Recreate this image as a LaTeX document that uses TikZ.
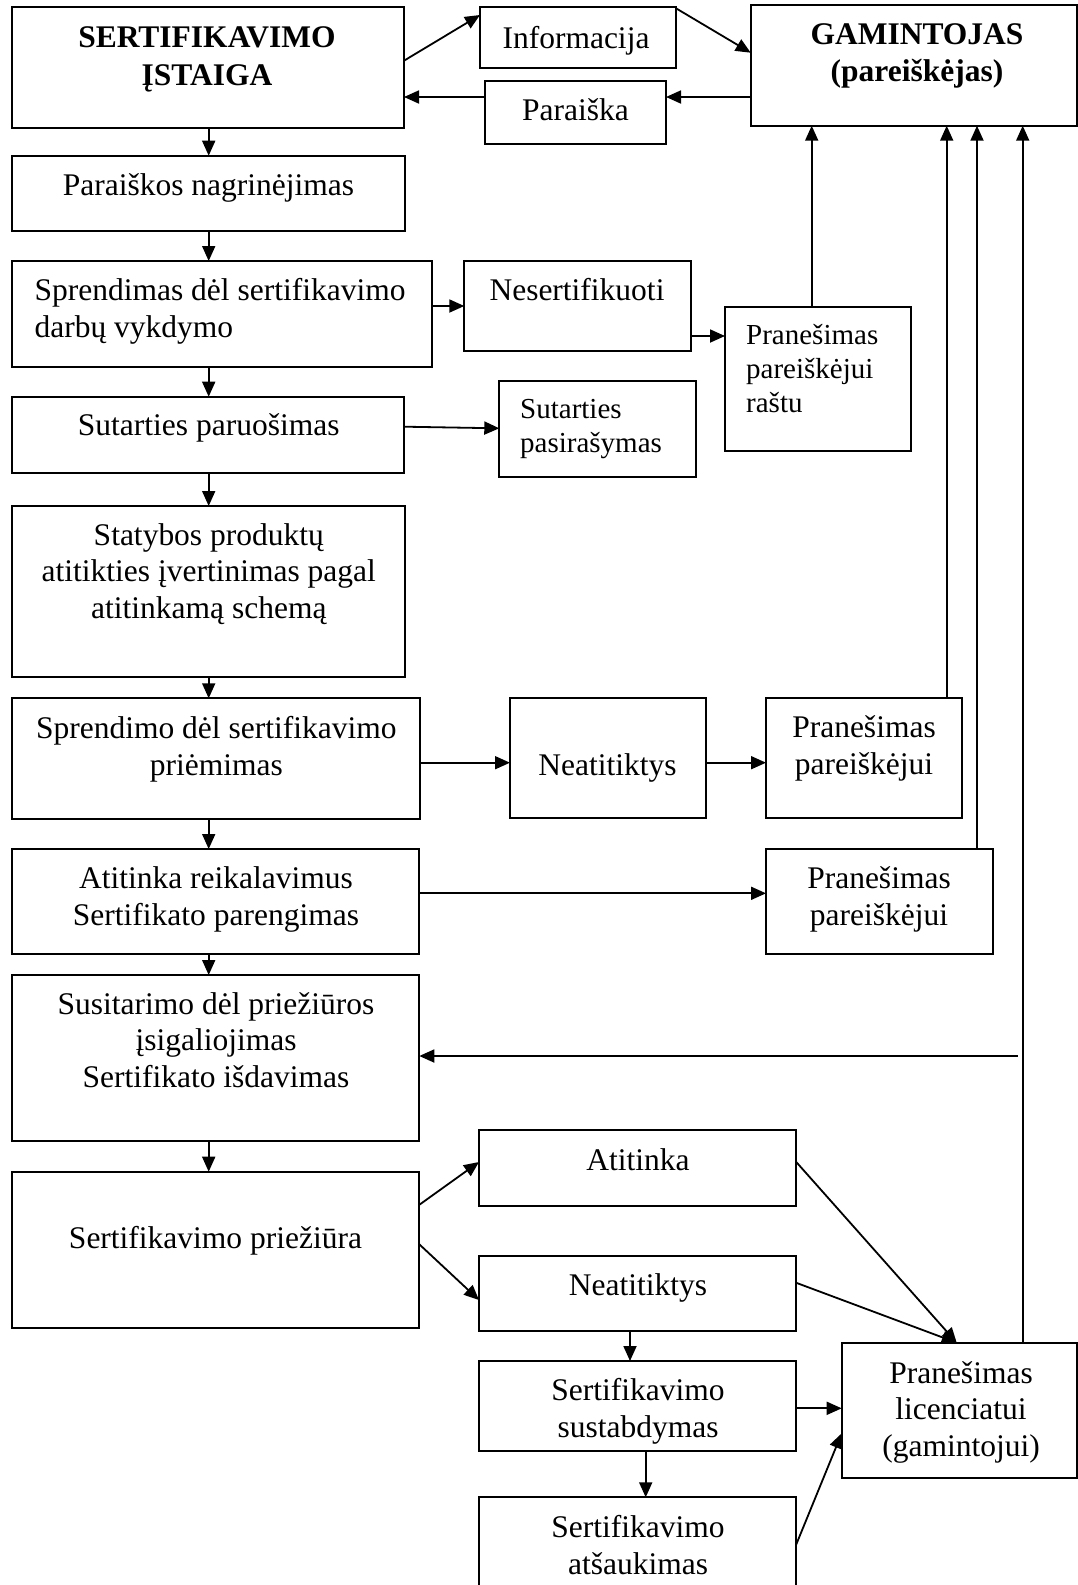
\documentclass[tikz,border=0pt]{standalone}
\usepackage{fontspec}
\setmainfont{Liberation Serif}
\usetikzlibrary{arrows.meta,calc}
\tikzset{
  box/.style={draw, line width=2pt, rectangle, inner sep=0pt, outer sep=0pt},
  txt/.style={inner sep=0pt, anchor=base, align=center, font=\fontsize{31.5}{36.5}\selectfont},
  txtl/.style={inner sep=0pt, anchor=base west, align=left, font=\fontsize{31.5}{36.5}\selectfont},
  small/.style={inner sep=0pt, anchor=base west, align=left, font=\fontsize{29}{34}\selectfont},
  head/.style={inner sep=0pt, anchor=base, align=center, font=\fontsize{31.5}{37.3}\selectfont\bfseries},
  conn/.style={line width=1.8pt, -{Triangle[length=15pt,width=13pt]}},
}
\newcommand\bx[5]{\node[box, minimum width={(#4)-(#2)}, minimum height={(#5)-(#3)}] (#1) at ({((#2)+(#4))/2},{((#3)+(#5))/2}) {};}
\begin{document}
\begin{tikzpicture}[x=1pt,y=-1pt]
\useasboundingbox (0,0) rectangle (1078,1585);
% boxes
\bx{sert}{12.4}{7.3}{404}{127.7}
\bx{info}{480}{7}{676}{68}
\bx{parai}{485}{81}{666}{144}
\bx{gam}{750.7}{5}{1077}{125.7}
\bx{pnag}{12.4}{155.7}{405}{230.7}
\bx{spr}{12.4}{261}{431.7}{366.7}
\bx{nes}{464.3}{261}{690.7}{351}
\bx{rastu}{725}{307}{910.7}{451}
\bx{sutp}{12.4}{396.7}{404.3}{472.7}
\bx{pas}{499.3}{380.7}{696}{476.7}
\bx{stat}{12.3}{506}{405}{677.3}
\bx{prie}{12.3}{698.3}{420}{818.7}
\bx{neatA}{510}{698.3}{706}{818.3}
\bx{ppA}{766}{698.3}{962.3}{818.3}
\bx{atr}{12.3}{849}{419}{954.3}
\bx{ppB}{766}{849}{992.7}{954.3}
\bx{sus}{12.3}{975}{419.3}{1140.7}
\bx{prz}{12.3}{1171.7}{419}{1328.3}
\bx{atit}{479}{1130}{796}{1205.7}
\bx{neatB}{479}{1255.7}{796}{1330.7}
\bx{sust}{479}{1361}{796}{1450.7}
\bx{ats}{479}{1497.3}{796}{1600}
\bx{lic}{841.7}{1342.7}{1077}{1477.7}
% texts (anchor base = baseline of the last line)
\node[head] (tsert) at (207,85) {SERTIFIKAVIMO\\ĮSTAIGA};
\node[txt] (tinfo) at (576,48.3) {Informacija};
\node[txt] (tparai) at (575.5,120.7) {Paraiška};
\node[head] (tgam) at (917,81.7) {GAMINTOJAS\\(pareiškėjas)};
\node[txt] (tpnag) at (208.5,195) {Paraiškos nagrinėjimas};
\node[txtl] (tspr) at (34.4,337.3) {Sprendimas dėl sertifikavimo\\darbų vykdymo};
\node[txt] (tnes) at (577,300) {Nesertifikuoti};
\node[small] (trastu) at (746,412.3) {Pranešimas\\pareiškėjui\\raštu};
\node[txt] (tsutp) at (208.7,435) {Sutarties paruošimas};
\node[small] (tpas) at (520,452) {Sutarties\\pasirašymas};
\node[txt] (tstat) at (208.8,618.3) {Statybos produktų\\atitikties įvertinimas pagal\\atitinkamą schemą};
\node[txt] (tprie) at (216.3,775) {Sprendimo dėl sertifikavimo\\priėmimas};
\node[txt] (tneatA) at (607.5,775) {Neatitiktys};
\node[txt] (tppA) at (864,774.3) {Pranešimas\\pareiškėjui};
\node[txt] (tatr) at (216,925) {Atitinka reikalavimus\\Sertifikato parengimas};
\node[txt] (tppB) at (879,925) {Pranešimas\\pareiškėjui};
\node[txt] (tsus) at (216,1087) {Susitarimo dėl priežiūros\\įsigaliojimas\\Sertifikato išdavimas};
\node[txt] (tprz) at (215.5,1248.3) {Sertifikavimo priežiūra};
\node[txt] (tatit) at (638,1170) {Atitinka};
\node[txt] (tneatB) at (638,1295) {Neatitiktys};
\node[txt] (tsust) at (638,1437.3) {Sertifikavimo\\sustabdymas};
\node[txt] (tats) at (638,1574) {Sertifikavimo\\atšaukimas};
\node[txt] (tlic) at (961,1456) {Pranešimas\\licenciatui\\(gamintojui)};
% helper coordinates
\coordinate (colx) at (208.7,0);
\coordinate (c1) at (811.7,0);
\coordinate (c2) at (946.7,0);
\coordinate (c3) at (977,0);
\coordinate (c4) at (1022.7,0);
\coordinate (hin) at (1017.7,1056);
\coordinate (mlic) at (956.7,0);
\coordinate (cA) at (630,0);
\coordinate (cB) at (645.7,0);
% top connectors
\draw[conn] (sert.east |- 0,60.7) -- (info.west |- 0,15);
\draw[conn] (info.east |- 0,8.3) -- (gam.west |- 0,52.7);
\draw[conn] (gam.west |- 0,97) -- (parai.east |- 0,97);
\draw[conn] (parai.west |- 0,97) -- (sert.east |- 0,97);
% main column
\draw[conn] (sert.south -| colx) -- (pnag.north -| colx);
\draw[conn] (pnag.south -| colx) -- (spr.north -| colx);
\draw[conn] (spr.south -| colx) -- (sutp.north -| colx);
\draw[conn] (sutp.south -| colx) -- (stat.north -| colx);
\draw[conn] (stat.south -| colx) -- (prie.north -| colx);
\draw[conn] (prie.south -| colx) -- (atr.north -| colx);
\draw[conn] (atr.south -| colx) -- (sus.north -| colx);
\draw[conn] (sus.south -| colx) -- (prz.north -| colx);
% side branches
\draw[conn] (spr.east |- 0,306) -- (nes.west |- 0,306);
\draw[conn] (nes.east |- 0,336) -- (rastu.west |- 0,336);
\draw[conn] (rastu.north -| c1) -- (gam.south -| c1);
\draw[conn] (sutp.east |- 0,426.7) -- (pas.west |- 0,428.3);
\draw[conn] (prie.east |- 0,762.7) -- (neatA.west |- 0,762.7);
\draw[conn] (neatA.east |- 0,762.7) -- (ppA.west |- 0,762.7);
\draw[conn] (ppA.north -| c2) -- (gam.south -| c2);
\draw[conn] (atr.east |- 0,893.3) -- (ppB.west |- 0,893.3);
\draw[conn] (ppB.north -| c3) -- (gam.south -| c3);
\draw[conn] (lic.north -| c4) -- (gam.south -| c4);
\draw[conn] (hin) -- (sus.east |- hin);
% supervision
\draw[conn] (prz.east |- 0,1205) -- (atit.west |- 0,1162);
\draw[conn] (prz.east |- 0,1244) -- (neatB.west |- 0,1300);
\draw[conn] (atit.east |- 0,1161.7) -- (lic.north -| mlic);
\draw[conn] (neatB.east |- 0,1282.7) -- (lic.north -| mlic);
\draw[conn] (neatB.south -| cA) -- (sust.north -| cA);
\draw[conn] (sust.east |- 0,1408.3) -- (lic.west |- 0,1408.3);
\draw[conn] (sust.south -| cB) -- (ats.north -| cB);
\draw[conn] (ats.east |- 0,1545) -- (lic.west |- 0,1433.3);
\end{tikzpicture}
\end{document}
